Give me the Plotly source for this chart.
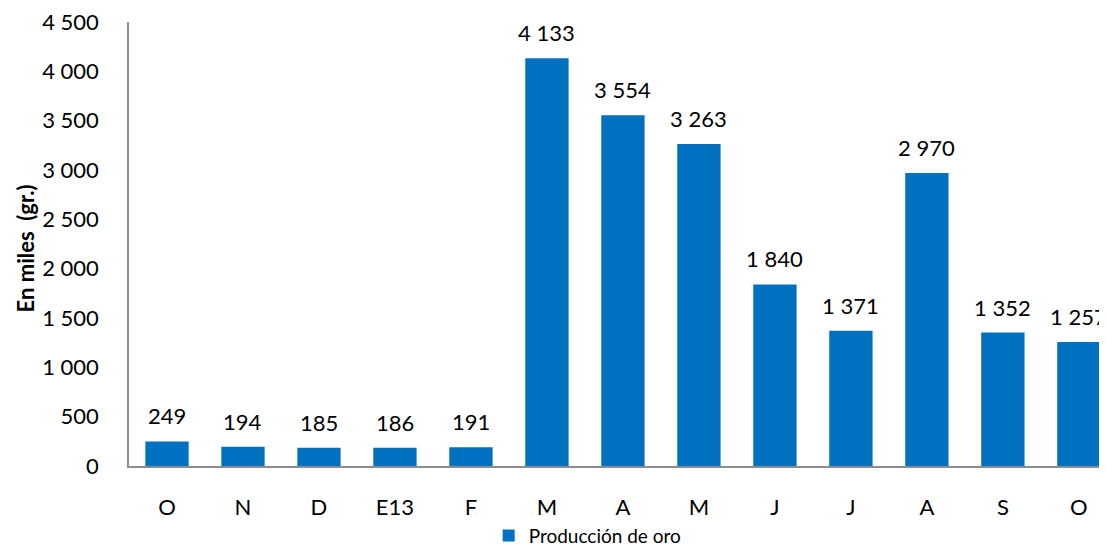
import plotly.graph_objects as go

categories = ["O", "N", "D", "E13", "F", "M", "A", "M ", "J", "J ", "A ", "S", "O "]
tick_labels = ["O", "N", "D", "E13", "F", "M", "A", "M", "J", "J", "A", "S", "O"]
values = [249, 194, 185, 186, 191, 4133, 3554, 3263, 1840, 1371, 2970, 1352, 1257]
y_ticks = [0, 500, 1000, 1500, 2000, 2500, 3000, 3500, 4000, 4500]
series_name = "Producción de oro"
y_title = "En miles  (gr.)"

FONT = "Lato"
BLUE = "#0070C0"
AXIS = "#8C8C8C"

x_idx = list(range(len(categories)))

fig = go.Figure()
fig.add_trace(go.Bar(
    x=x_idx, y=values, name=series_name,
    marker=dict(color=BLUE, line=dict(width=0)),
    width=0.57,
    hoverinfo="skip",
))

def fmt(v):
    return f"{v:,}".replace(",", " ")

for xi, v in zip(x_idx, values):
    fig.add_annotation(
        x=xi, y=v, xref="x", yref="y",
        text=fmt(v), showarrow=False,
        yanchor="bottom", yshift=10,
        font=dict(family=FONT, size=22, color="#000000"),
    )

fig.add_annotation(
    x=0, y=0.49, xref="paper", yref="paper", xshift=-104,
    text=f"<b>{y_title}</b>", textangle=-90, showarrow=False,
    xanchor="center", yanchor="middle",
    font=dict(family=FONT, size=22, color="#000000"),
)

fig.update_layout(
    width=1099, height=538,
    margin=dict(l=121, r=0, t=14, b=80, autoexpand=False),
    paper_bgcolor="white", plot_bgcolor="white",
    showlegend=True,
    legend=dict(
        orientation="h", x=0.469, xanchor="center", y=-0.157, yanchor="middle",
        bgcolor="rgba(0,0,0,0)",
        font=dict(family=FONT, size=19, color="#000000"),
        itemwidth=30,
    ),
    font=dict(family=FONT, color="#000000"),
)

fig.update_xaxes(
    range=[-0.5, 12.37],
    tickmode="array", tickvals=x_idx, ticktext=tick_labels,
    showline=True, linecolor=AXIS, linewidth=1.5,
    showgrid=False, zeroline=False, ticks="",
    tickfont=dict(family=FONT, size=22, color="#000000"),
    ticklabelstandoff=21, automargin=False,
)
fig.update_yaxes(
    range=[0, 4500],
    tickmode="array", tickvals=y_ticks,
    ticktext=[fmt(t) for t in y_ticks],
    showline=True, linecolor=AXIS, linewidth=1.5,
    showgrid=False, zeroline=False, ticks="",
    tickfont=dict(family=FONT, size=22, color="#000000"),
    ticklabelstandoff=24, automargin=False,
    ticklabeloverflow="allow",
)

fig.write_html("out.html")
